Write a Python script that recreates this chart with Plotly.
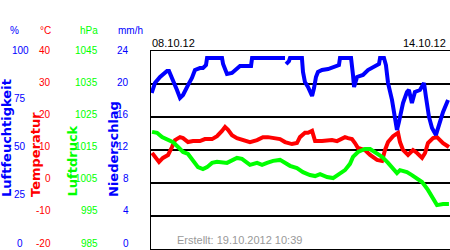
import plotly.graph_objects as go

# ---- data (hours since 08.10.12 00:00) ----
hum_hours = [0.4, 2.2, 5.1, 9.0, 10.1, 12.4, 14.6, 16.3, 18.0, 20.8, 23.0, 24.7, 27.5, 29.2, 30.9, 31.5,
             39.9, 40.5, 42.7, 45.5, 48.3, 50.0, 56.2, 56.8, 75.3, 75.6, 75.9, 77.5, 78.1, 84.8, 85.4, 86.5,
             88.2, 90.5, 91.6, 92.7, 93.8, 96.1, 99.5, 103.4, 105.6, 106.2, 112.4, 113.5, 114.1, 115.8,
             119.1, 121.9, 124.7, 128.1, 128.7, 130.9, 132.0, 133.2, 135.4, 137.1, 138.2, 139.3, 141.6,
             143.8, 144.9, 146.6, 148.3, 151.1, 153.4, 154.5, 156.2, 157.9, 160.1, 161.8, 164.1, 166.9]
humidity = [78.8, 83.8, 86.9, 89.9, 89.9, 85.4, 80.3, 76.3, 77.8, 82.8, 86.4, 90.4, 91.4, 91.4, 92.9, 96.5,
            96.5, 93.4, 88.4, 88.9, 90.9, 92.4, 92.4, 96.5, 96.5, None, 93.4, 94.9, 96.5, 96.5, 89.4, 84.3,
            81.8, 77.3, 81.3, 86.9, 89.4, 90.4, 90.9, 91.9, 92.9, 96.5, 96.5, 87.9, 81.8, 86.9,
            87.9, 90.4, 91.9, 93.4, 96.5, 96.5, 92.9, 83.8, 75.3, 66.7, 60.1, 64.1, 73.7,
            79.3, 80.3, 73.7, 79.3, 80.3, 83.8, 76.8, 66.7, 61.1, 57.6, 62.6, 69.2, 75.3]

temp_hours = [0.6, 2.2, 4.5, 6.7, 9.6, 11.8, 13.5, 16.3, 18.0, 20.8, 23.6, 27.5, 30.3, 34.3, 37.1, 39.9,
              41.6, 43.3, 45.5, 48.3, 51.7, 55.6, 59.6, 62.9, 65.7, 68.0, 72.5, 75.3, 79.2, 82.0, 83.7,
              86.5, 88.2, 90.5, 91.6, 92.2, 96.1, 101.7, 104.5, 107.3, 109.0, 110.7, 112.9, 114.6, 116.3,
              120.2, 123.1, 127.0, 129.8, 131.5, 133.2, 136.0, 138.8, 139.9, 141.6, 144.4, 147.2, 149.5,
              152.3, 154.0, 155.6, 158.5, 160.7, 164.1, 167.4]
temperature = [9.1, 7.9, 6.4, 7.6, 8.5, 10.9, 13.0, 13.9, 13.6, 12.4, 12.7, 12.7, 13.3, 13.3, 14.2, 15.8,
               17.0, 16.1, 14.5, 13.6, 13.0, 12.4, 13.0, 13.9, 13.9, 13.6, 13.3, 12.4, 11.8, 12.1, 13.9,
               15.2, 15.2, 15.8, 13.9, 12.7, 12.7, 13.0, 12.7, 13.3, 13.9, 13.6, 13.3, 12.1, 10.6,
               10.0, 8.5, 7.0, 6.7, 10.0, 12.4, 14.2, 15.2, 12.4, 10.0, 8.5, 10.0, 9.1,
               7.6, 9.1, 12.1, 13.6, 13.9, 12.1, 10.9]

pres_hours = [0.6, 3.4, 6.2, 9.6, 12.4, 15.2, 18.0, 20.8, 23.6, 26.4, 29.2, 31.5, 34.3, 37.1, 42.7, 45.5,
              48.3, 51.1, 53.9, 55.6, 59.6, 62.4, 65.2, 68.6, 72.5, 75.3, 78.1, 82.0, 85.4, 89.3, 92.2,
              95.0, 98.9, 102.3, 105.1, 109.0, 111.8, 113.5, 116.3, 120.2, 123.1, 125.9, 129.8, 133.2,
              136.0, 138.2, 139.9, 143.8, 146.6, 149.5, 152.3, 155.6, 158.5, 160.7, 164.1, 167.4]
pressure = [1020.5, 1020.2, 1018.9, 1018.0, 1017.4, 1015.9, 1014.4, 1013.8, 1012.0, 1009.8, 1009.2, 1009.8,
            1011.1, 1011.4, 1011.1, 1012.0, 1012.6, 1012.3, 1011.1, 1010.5, 1011.1, 1010.5, 1011.1, 1011.7,
            1012.0, 1011.1, 1010.2, 1009.5, 1008.3, 1007.4, 1007.1, 1007.7, 1006.8, 1006.5, 1007.4, 1008.9,
            1010.8, 1012.9, 1014.4, 1015.3, 1015.3, 1014.4, 1012.9, 1011.1, 1009.5, 1008.0, 1008.9, 1008.3,
            1007.4, 1006.5, 1005.3, 1002.9, 1000.5, 998.3, 998.6, 998.6]

hum_ticks = [0, 25, 50, 75, 100]
temp_ticks = [-20, -10, 0, 10, 20, 30, 40]
pres_ticks = [985, 995, 1005, 1015, 1025, 1035, 1045]
rain_ticks = [0, 4, 8, 12, 16, 20, 24]
start_label = "08.10.12"
end_label = "14.10.12"
created_label = "Erstellt: 19.10.2012 10:39"

BLUE = "#0000ff"
RED = "#ff0000"
GREEN = "#00ff00"

W, H = 450, 250
L, R, T, B = 151, 0, 51, 1
PW = W - L - R
PH = H - T - B


def xp(px):
    return (px - L) / PW


def yp(py):
    return (H - B - py) / PH


def label_y(frac):
    # tick labels are spread from y=243 (bottom) to y=50 (top)
    return yp(243 - frac * 193)


fig = go.Figure()
fig.add_trace(go.Scatter(x=pres_hours, y=pressure, mode="lines", yaxis="y3",
                         line=dict(color=GREEN, width=4), hoverinfo="skip"))
fig.add_trace(go.Scatter(x=temp_hours, y=temperature, mode="lines", yaxis="y",
                         line=dict(color=RED, width=4), hoverinfo="skip"))
fig.add_trace(go.Scatter(x=hum_hours, y=humidity, mode="lines", yaxis="y2", connectgaps=False,
                         line=dict(color=BLUE, width=4), hoverinfo="skip"))

ann = []
tick_font = dict(family="Liberation Sans, Arial", size=10)


def add_ticks(ticks, color, x, xanchor):
    lo, hi = ticks[0], ticks[-1]
    for v in ticks:
        ann.append(dict(text=str(v), x=xp(x), y=label_y((v - lo) / (hi - lo)), xref="paper", yref="paper",
                        xanchor=xanchor, yanchor="middle", showarrow=False,
                        font=dict(color=color, **tick_font)))


add_ticks(hum_ticks, BLUE, 20, "center")
add_ticks(temp_ticks, RED, 53, "right")
add_ticks(pres_ticks, GREEN, 100, "right")
add_ticks(rain_ticks, BLUE, 131, "right")

for txt, color, x, xa in [("%", BLUE, 14, "center"), ("°C", RED, 53, "right"),
                          ("hPa", GREEN, 100, "right"), ("mm/h", BLUE, 145, "right")]:
    ann.append(dict(text=txt, x=xp(x), y=yp(30), xref="paper", yref="paper", xanchor=xa,
                    yanchor="middle", showarrow=False, font=dict(color=color, **tick_font)))

title_font = dict(family="DejaVu Sans", size=13)
for txt, color, x in [("<b>Luftfeuchtigkeit</b>", BLUE, 6), ("<b>Temperatur</b>", RED, 35.5),
                      ("<b>Luftdruck</b>", GREEN, 72), ("<b>Niederschlag</b>", BLUE, 113)]:
    ann.append(dict(text=txt, x=xp(x), y=yp(199), xref="paper", yref="paper", xanchor="center",
                    yanchor="bottom", textangle=-90, showarrow=False, font=dict(color=color, **title_font)))

ann.append(dict(text=start_label, x=xp(150), y=yp(43), xref="paper", yref="paper", xanchor="left",
                yanchor="middle", showarrow=False, font=dict(family="Liberation Sans, Arial", size=11, color="#000")))
ann.append(dict(text=end_label, x=xp(448), y=yp(43), xref="paper", yref="paper", xanchor="right",
                yanchor="middle", showarrow=False, font=dict(family="Liberation Sans, Arial", size=11, color="#000")))
ann.append(dict(text=created_label, x=xp(175), y=yp(240), xref="paper", yref="paper", xanchor="left",
                yanchor="middle", showarrow=False, font=dict(family="Liberation Sans, Arial", size=11, color="#999999")))

fig.update_layout(
    width=W, height=H, margin=dict(l=L, r=R, t=T, b=B, pad=0),
    paper_bgcolor="white", plot_bgcolor="white", showlegend=False,
    xaxis=dict(range=[0, 168], showgrid=False, zeroline=False, showticklabels=False, ticks="",
               showline=True, linecolor="black", linewidth=1.5, mirror=True, fixedrange=True),
    yaxis=dict(range=[-20, 40], dtick=10, tick0=0, showgrid=True, gridcolor="black", gridwidth=1.5,
               zeroline=False, showticklabels=False, ticks="", showline=True, linecolor="black",
               linewidth=1.5, fixedrange=True),
    yaxis2=dict(range=[0, 100], overlaying="y", showgrid=False, zeroline=False, showticklabels=False,
                ticks="", visible=False, fixedrange=True),
    yaxis3=dict(range=[985, 1045], overlaying="y", showgrid=False, zeroline=False, showticklabels=False,
                ticks="", visible=False, fixedrange=True),
    annotations=ann,
)

fig.write_html("out.html", config={"displayModeBar": False, "staticPlot": True})
